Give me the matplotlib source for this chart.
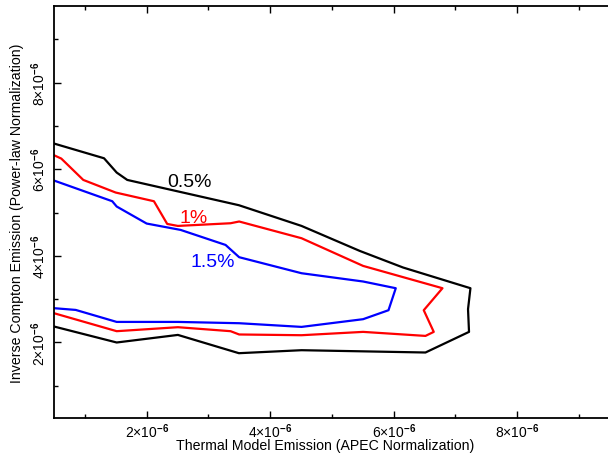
import matplotlib
matplotlib.use("Agg")
import matplotlib.pyplot as plt
from matplotlib.ticker import FixedLocator, MultipleLocator, FuncFormatter

plt.rcParams['font.family'] = ['Liberation Sans', 'DejaVu Sans']
plt.rcParams['mathtext.fontset'] = 'custom'
plt.rcParams['mathtext.rm'] = 'Liberation Sans'
plt.rcParams['mathtext.it'] = 'Liberation Sans:italic'
plt.rcParams['mathtext.bf'] = 'Liberation Sans:bold'

SCALE = 1e-6

# contour levels (values in units of 1e-6)
c05_x = [0.5, 1.31, 1.515, 1.686, 3.494, 4.508, 5.451, 6.152, 7.243, 7.204, 7.220,
         6.515, 4.508, 3.494, 2.506, 1.515, 0.5]
c05_y = [6.593, 6.253, 5.923, 5.753, 5.169, 4.691, 4.114, 3.731, 3.253, 2.769, 2.245,
         1.769, 1.822, 1.753, 2.175, 2.0, 2.369]

c1_x = [0.5, 0.618, 0.974, 1.498, 2.118, 2.333, 2.506, 3.359, 3.498, 4.508, 5.505,
        6.790, 6.487, 6.649, 6.515, 5.505, 4.508, 3.498, 3.359, 2.506, 1.515, 0.5]
c1_y = [6.323, 6.246, 5.753, 5.462, 5.261, 4.737, 4.691, 4.753, 4.793, 4.407, 3.768,
        3.253, 2.745, 2.245, 2.152, 2.245, 2.168, 2.185, 2.261, 2.353, 2.261, 2.676]

c15_x = [0.5, 1.443, 1.515, 2.0, 2.550, 3.278, 3.498, 4.508, 5.505, 6.034, 5.916,
         5.505, 4.508, 3.498, 2.506, 1.515, 0.851, 0.5]
c15_y = [5.739, 5.261, 5.139, 4.746, 4.599, 4.252, 3.969, 3.599, 3.408, 3.253, 2.745,
         2.538, 2.360, 2.445, 2.475, 2.475, 2.752, 2.792]

labels = ["0.5%", "1%", "1.5%"]
label_x = [2.70, 2.76, 3.07]
label_y = [5.72, 4.89, 3.87]
colors = ["black", "red", "blue"]

x_major = [2, 4, 6, 8]
y_major = [2, 4, 6, 8]

fig = plt.figure(figsize=(6.08, 4.56), dpi=100)
ax = fig.add_axes([54/608, 36.7/456, 562/608, 412.6/456])

for xs, ys, c in [(c05_x, c05_y, colors[0]), (c1_x, c1_y, colors[1]), (c15_x, c15_y, colors[2])]:
    ax.plot([v * SCALE for v in xs], [v * SCALE for v in ys], color=c, lw=1.6, clip_on=True)

for t, lx, ly, c in zip(labels, label_x, label_y, colors):
    ax.text(lx * SCALE, ly * SCALE, t, color=c, fontsize=14, ha='center', va='center')

ax.set_xlim(0.5 * SCALE, 9.6 * SCALE)
ax.set_ylim(0.25 * SCALE, 9.775 * SCALE)

def fmt(v, pos):
    return r'$%d{\times}10^{\mathbf{-6}}$' % round(v / SCALE)

ax.xaxis.set_major_locator(FixedLocator([v * SCALE for v in x_major]))
ax.yaxis.set_major_locator(FixedLocator([v * SCALE for v in y_major]))
ax.xaxis.set_minor_locator(MultipleLocator(1 * SCALE))
ax.yaxis.set_minor_locator(MultipleLocator(1 * SCALE))
ax.xaxis.set_major_formatter(FuncFormatter(fmt))
ax.yaxis.set_major_formatter(FuncFormatter(fmt))

ax.tick_params(which='both', direction='in', top=True, right=True, width=1, color='black')
ax.tick_params(which='major', length=5, labelsize=10)
ax.tick_params(axis='x', which='major', pad=2)
ax.tick_params(axis='y', which='major', pad=4)
ax.tick_params(which='minor', length=3)
for lab in ax.get_yticklabels():
    lab.set_rotation(90)
    lab.set_va('center')

for s in ax.spines.values():
    s.set_linewidth(1.3)

ax.set_xlabel("Thermal Model Emission (APEC Normalization)", fontsize=10.2)
ax.xaxis.set_label_coords(0.482, -20 / 412.6)
ax.set_ylabel("Inverse Compton Emission (Power-law Normalization)", fontsize=10.2, labelpad=4)

fig.savefig("out.png", dpi=100)
